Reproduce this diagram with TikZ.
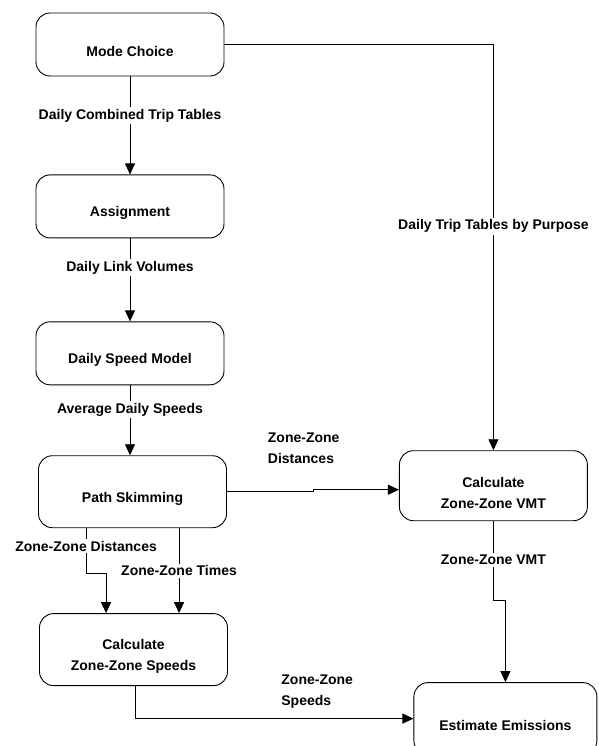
\documentclass[tikz,border=0pt]{standalone}
\usepackage{fontspec}
\setmainfont{Liberation Sans}
\usepackage{tikz}
\usetikzlibrary{positioning, arrows.meta}

\begin{document}
\begin{tikzpicture}[x=1pt, y=1pt, line width=0.9pt,
  txt/.style={font=\fontsize{14}{21}\selectfont\bfseries, inner sep=2pt},
  lab/.style={txt, fill=white},
  box/.style={draw, rounded corners=14pt, minimum width=188pt, minimum height=63pt,
    label={[txt, yshift=-7pt, align=center]center:#1}},
  flow/.style={-{Triangle[length=11pt, width=10pt]}}]

\useasboundingbox (0,0) rectangle (598,-746);

\node[box=Mode Choice] (mode) at (130,-44.5) {};
\node[box=Assignment] (assign) [below=98pt of mode] {};
\node[box=Daily Speed Model] (speed) [below=83pt of assign] {};
\node[box=Path Skimming, minimum height=72pt, xshift=2.5pt] (skim) [below=70pt of speed] {};
\node[box={Calculate\\Zone-Zone Speeds}, minimum height=72pt, xshift=1pt] (speeds) [below=85pt of skim] {};
\node[box={Calculate\\Zone-Zone VMT}, minimum height=70pt, yshift=6pt] (vmt) [right=172pt of skim] {};
\node[box=Estimate Emissions, minimum width=183pt, minimum height=72pt, xshift=12pt] (emis) [below=161pt of vmt] {};

\node[txt, align=left, anchor=south west] (distlab) at ([shift={(38.5,26)}]skim.east) {Zone-Zone\\Distances};
\node[txt, align=left, anchor=south west] (speedlab) at ([shift={(-134.5,8)}]emis.west) {Zone-Zone\\Speeds};

\draw[flow] (mode) -- node[lab, pos=0.4] {Daily Combined Trip Tables} (assign);
\draw[flow] (assign) -- node[lab, pos=0.35] {Daily Link Volumes} (speed);
\draw[flow] (speed) -- node[lab, pos=0.35] {Average Daily Speeds} (speed |- skim.north);
\draw[flow] (mode.east) -| node[lab, pos=0.724] {Daily Trip Tables by Purpose} (vmt);
\draw[flow] (skim.east) -- ++(86,0) |- ([yshift=-4]vmt.west);
\draw[flow] ([xshift=48]skim.south west) -- node[lab, pos=0.4] {Zone-Zone Distances} ++(0,-45)
  -| ([xshift=67]speeds.north west);
\draw[flow] ([xshift=141]skim.south west) -- node[lab, pos=0.5] {Zone-Zone Times} ([xshift=140]speeds.north west);
\draw[flow] ([xshift=96]speeds.south west) |- (emis.west);
\draw[flow] (vmt.south) -- node[lab, pos=0.49] {Zone-Zone VMT} ++(0,-79) -| (emis.north);

\end{tikzpicture}
\end{document}
